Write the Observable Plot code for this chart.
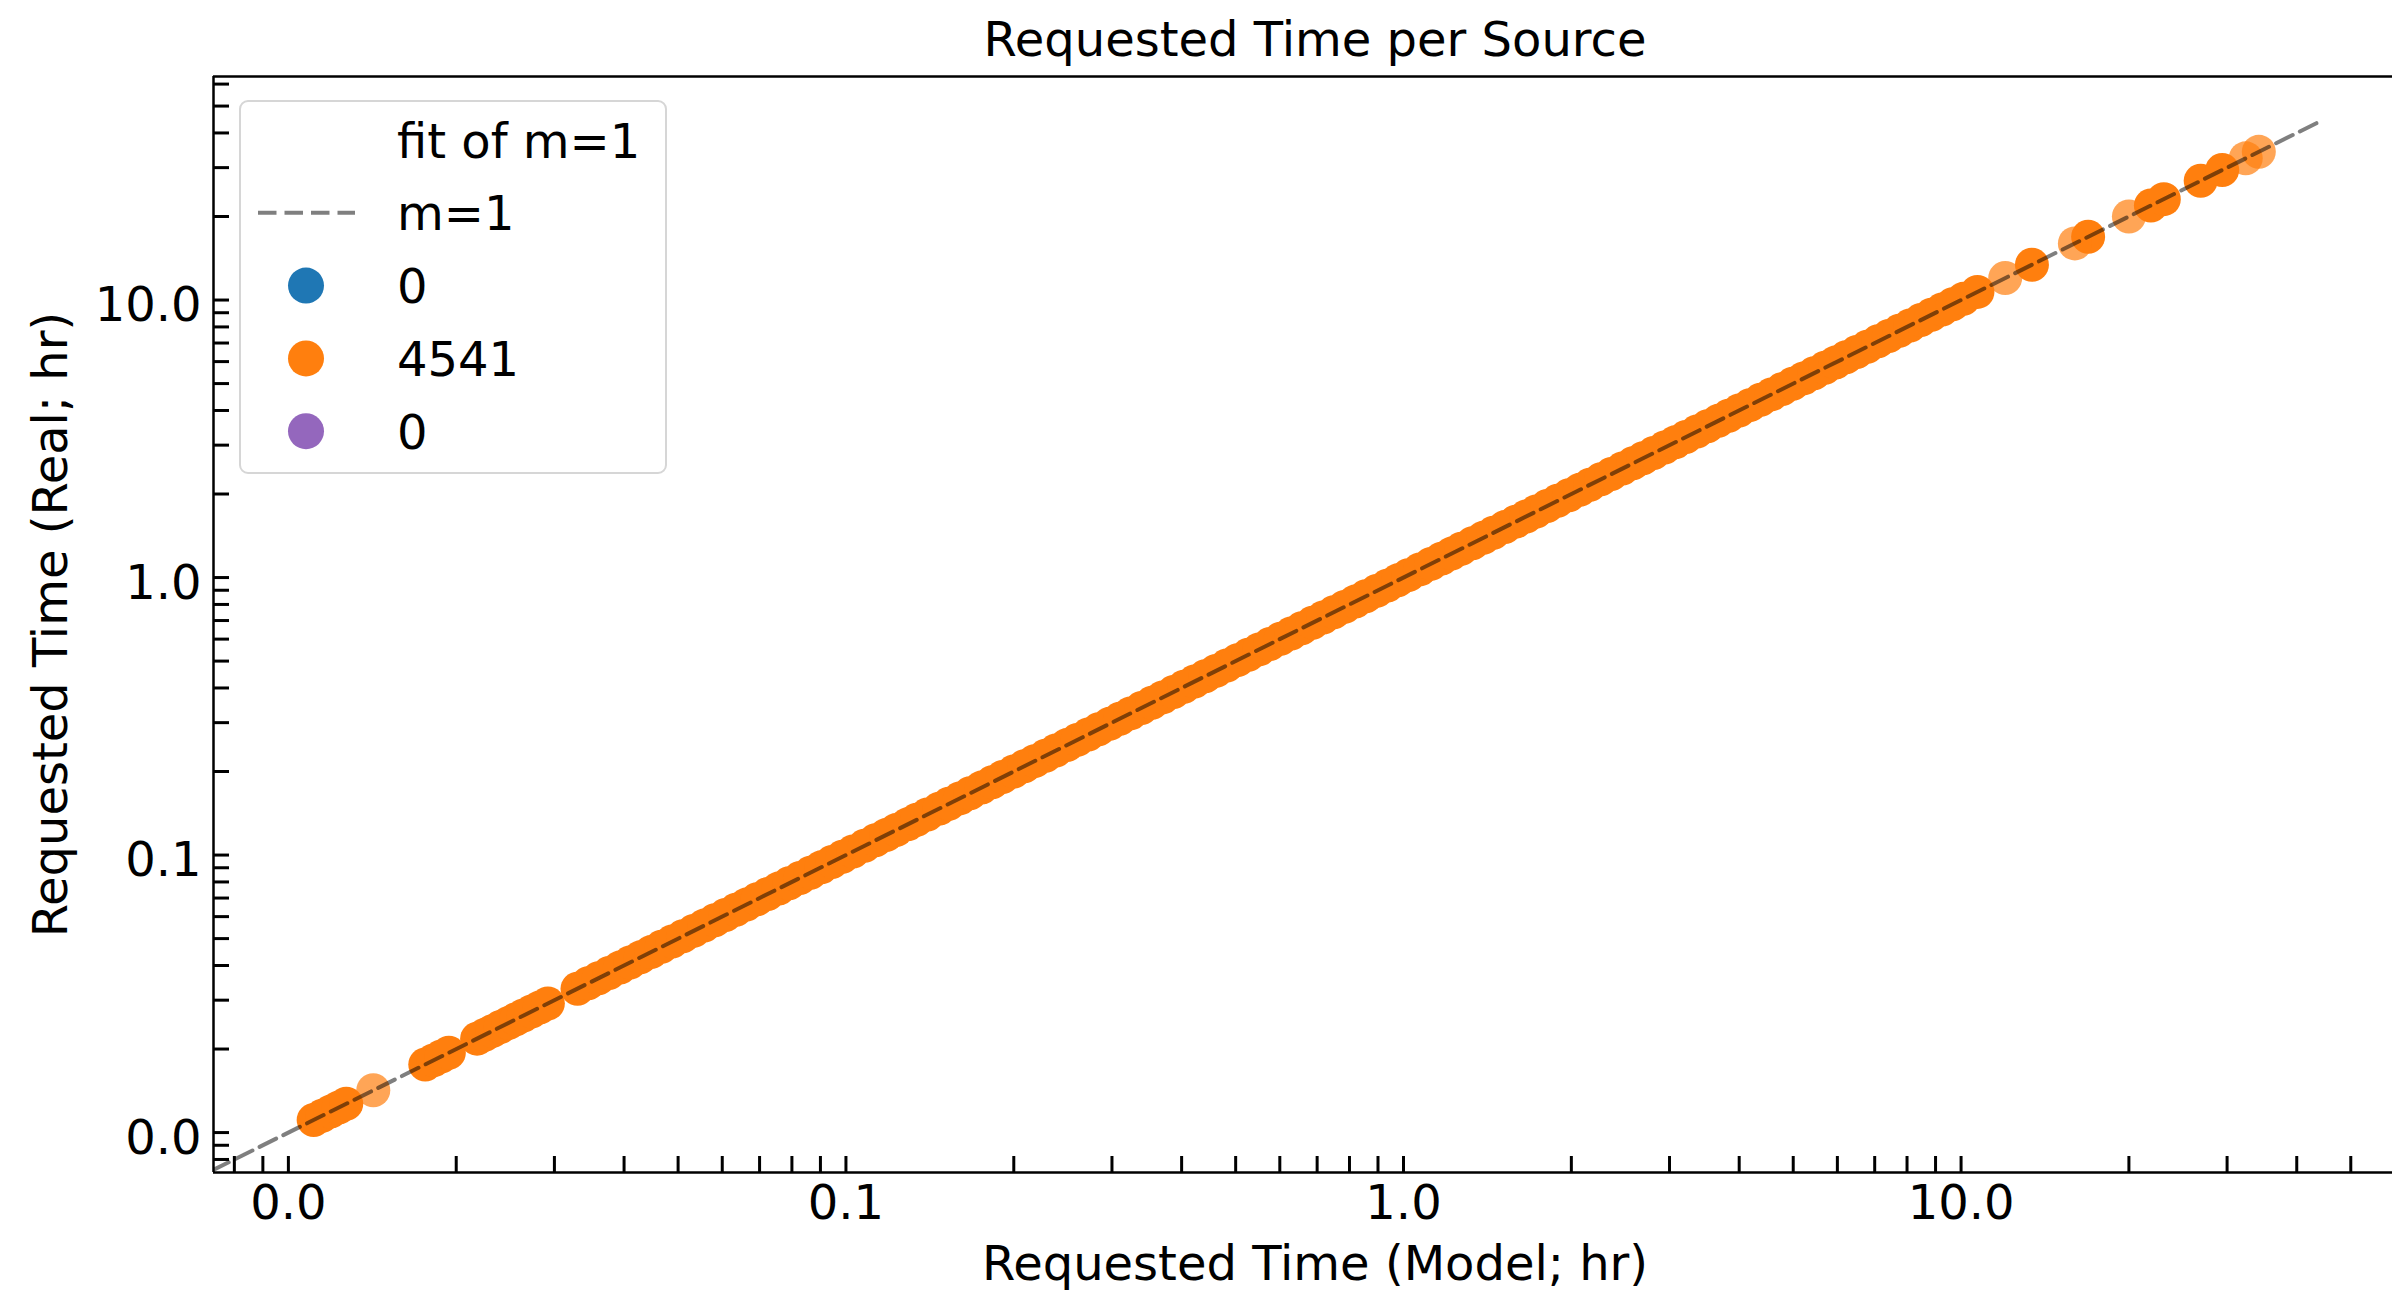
<!DOCTYPE html>
<html><head><meta charset="utf-8">
<script src="https://cdn.jsdelivr.net/npm/d3@7"></script>
<script src="https://cdn.jsdelivr.net/npm/@observablehq/plot@0.6"></script>
<style>
html,body{margin:0;padding:0;background:#fff;overflow:hidden}
#wrap{position:relative;width:2392px;height:1294px}
#legend{position:absolute;left:0;top:0;pointer-events:none}
</style></head><body><div id="wrap"></div>
<script>
// ---- texts ----
const titleText = "Requested Time per Source";
const xLabelText = "Requested Time (Model; hr)";
const yLabelText = "Requested Time (Real; hr)";

// ---- ticks ----
const majorTicks = [0.01, 0.1, 1, 10];
const minorTicksX = [0.008, 0.009, 0.01, 0.02, 0.03, 0.04, 0.05, 0.06, 0.07, 0.08, 0.09,
  0.1, 0.2, 0.3, 0.4, 0.5, 0.6, 0.7, 0.8, 0.9, 1, 2, 3, 4, 5, 6, 7, 8, 9, 10, 20, 30, 40, 50];
const minorTicksY = [0.008, 0.009, 0.01, 0.02, 0.03, 0.04, 0.05, 0.06, 0.07, 0.08, 0.09,
  0.1, 0.2, 0.3, 0.4, 0.5, 0.6, 0.7, 0.8, 0.9, 1, 2, 3, 4, 5, 6, 7, 8, 9, 10, 20, 30, 40, 50, 60];

// ---- data: requested hours (Real equals Model for every source, so each value is used for both axes) ----
// positions where many sources are stacked
const stackedHours = [
  0.0111, 0.0115, 0.0119, 0.0123, 0.0127,
  0.0176, 0.0182, 0.0188, 0.0194,
  0.0218, 0.0225, 0.0232, 0.0240, 0.0248, 0.0256, 0.0264, 0.0273, 0.0282, 0.0292,
  0.033, 0.0345, 0.036, 0.0376, 0.0393, 0.041, 0.0428, 0.0447, 0.0467, 0.0488, 0.051, 0.0533,
  0.0557, 0.0582, 0.0608, 0.0635, 0.0663, 0.0693, 0.0724, 0.0757, 0.0791, 0.0827, 0.0864,
  0.0903, 0.0944, 0.0986, 0.103, 0.108, 0.113, 0.118, 0.123, 0.129, 0.134, 0.14, 0.147,
  0.153, 0.16, 0.167, 0.175, 0.183, 0.191, 0.2, 0.209, 0.218, 0.228, 0.238, 0.249, 0.26,
  0.272, 0.284, 0.297, 0.31, 0.324, 0.339, 0.354, 0.37, 0.387, 0.404, 0.422, 0.441, 0.461,
  0.482, 0.504, 0.527, 0.551, 0.576, 0.602, 0.629, 0.657, 0.687, 0.718, 0.75, 0.784, 0.819,
  0.856, 0.895, 0.935, 0.977, 1.02, 1.07, 1.12, 1.17, 1.22, 1.27, 1.33, 1.39, 1.45, 1.52,
  1.59, 1.66, 1.73, 1.81, 1.89, 1.98, 2.07, 2.16, 2.26, 2.36, 2.47, 2.58, 2.69, 2.81, 2.94,
  3.07, 3.21, 3.36, 3.51, 3.67, 3.83, 4.0, 4.18, 4.37, 4.57, 4.78, 4.99, 5.22, 5.45, 5.7,
  5.95, 6.22, 6.5, 6.79, 7.1, 7.42, 7.75, 8.1, 8.47, 8.85, 9.25, 9.66, 10.1,
  10.7, 13.4, 16.9, 21.9, 23.1, 26.9, 29.4
];
// positions with a single source (semi-transparent)
const singleHours = [0.0142, 12.0, 16.0, 20.0, 32.4, 34.2];
// m=1 reference line
const fitHours = [0.006, 44];

// ---- legend ----
const legendLabels = ["fit of m=1", "m=1", "0", "4541", "0"];
const legendKinds = ["none", "line", "dot", "dot", "dot"];
const legendColors = [null, "black", "#1f77b4", "#ff7f0e", "#9467bd"];

// ---- scales ----
const xDomain = [0.00734, 59.4];
const yDomain = [0.00718, 63.9];

const W = 2392, H = 1294, mL = 213, mT = 76, mB = 122, mR = 0;
const frameW = W - mL - mR, frameH = H - mT - mB;
const FS = 48, FONT = "DejaVu Sans";
const orange = "#ff7f0e";
const fmt = d => d.toFixed(1);

const chart = Plot.plot({
  width: W, height: H,
  marginLeft: mL, marginRight: mR, marginTop: mT, marginBottom: mB,
  style: {fontFamily: FONT, fontSize: FS + "px", background: "white", color: "black"},
  x: {type: "log", domain: xDomain},
  y: {type: "log", domain: yDomain},
  marks: [
    Plot.dot(stackedHours, {x: d => d, y: d => d, r: 17, fill: orange, fillOpacity: 1, stroke: null}),
    Plot.dot(singleHours, {x: d => d, y: d => d, r: 17, fill: orange, fillOpacity: 0.7, stroke: null}),
    Plot.line(fitHours, {x: d => d, y: d => d, stroke: "black", strokeOpacity: 0.5, strokeWidth: 4,
      strokeDasharray: "18.5,8", clip: true}),
    // inward ticks
    Plot.tickX(minorTicksX.filter(d => d > xDomain[0] && d < xDomain[1]),
      {x: d => d, insetTop: frameH - 16, stroke: "black", strokeWidth: 3}),
    Plot.tickY(minorTicksY.filter(d => d > yDomain[0] && d < yDomain[1]),
      {y: d => d, insetRight: frameW - 16, stroke: "black", strokeWidth: 3}),
    // spines (right one falls outside the picture)
    Plot.ruleX([xDomain[0]], {stroke: "black", strokeWidth: 2.5}),
    Plot.ruleY([yDomain[0]], {stroke: "black", strokeWidth: 2.5}),
    Plot.ruleY([yDomain[1]], {stroke: "black", strokeWidth: 2.5}),
    // tick labels
    Plot.axisX({ticks: majorTicks, tickSize: 0, tickPadding: 12, tickFormat: fmt, label: null,
      fontSize: FS, fill: "black"}),
    Plot.axisY({ticks: majorTicks, tickSize: 0, tickPadding: 12, tickFormat: fmt, label: null,
      fontSize: FS, fill: "black", dy: 6}),
    // title and axis labels
    Plot.text([titleText], {text: d => d, frameAnchor: "top", lineAnchor: "middle", textAnchor: "middle",
      dx: 12, dy: -36, fontSize: FS, fill: "black"}),
    Plot.text([xLabelText], {text: d => d, frameAnchor: "bottom", lineAnchor: "middle", textAnchor: "middle",
      dx: 12, dy: 92, fontSize: FS, fill: "black"}),
    Plot.text([yLabelText], {text: d => d, frameAnchor: "left", lineAnchor: "middle", textAnchor: "middle",
      dx: -162, rotate: -90, fontSize: FS, fill: "black"})
  ]
});
const wrap = document.getElementById("wrap");
wrap.appendChild(chart);

// ---- legend overlay ----
const leg = d3.select(wrap).append("svg").attr("id", "legend")
  .attr("width", W).attr("height", H)
  .style("font-family", FONT).style("font-size", FS + "px");
leg.append("rect").attr("x", 240).attr("y", 101).attr("width", 426).attr("height", 372)
  .attr("rx", 8).attr("fill", "white").attr("fill-opacity", 0.8)
  .attr("stroke", "#d6d6d6").attr("stroke-width", 2);
const rowY = i => 140 + 72.8 * i;
legendLabels.forEach((lab, i) => {
  const cy = rowY(i);
  if (legendKinds[i] === "line") {
    leg.append("line").attr("x1", 258).attr("x2", 355).attr("y1", cy).attr("y2", cy)
      .attr("stroke", legendColors[i]).attr("stroke-opacity", 0.5).attr("stroke-width", 4)
      .attr("stroke-dasharray", "18.5,8");
  } else if (legendKinds[i] === "dot") {
    leg.append("circle").attr("cx", 306).attr("cy", cy).attr("r", 18).attr("fill", legendColors[i]);
  }
  leg.append("text").attr("x", 397).attr("y", cy + 17.5).attr("fill", "black").text(lab);
});
</script>
</body></html>
